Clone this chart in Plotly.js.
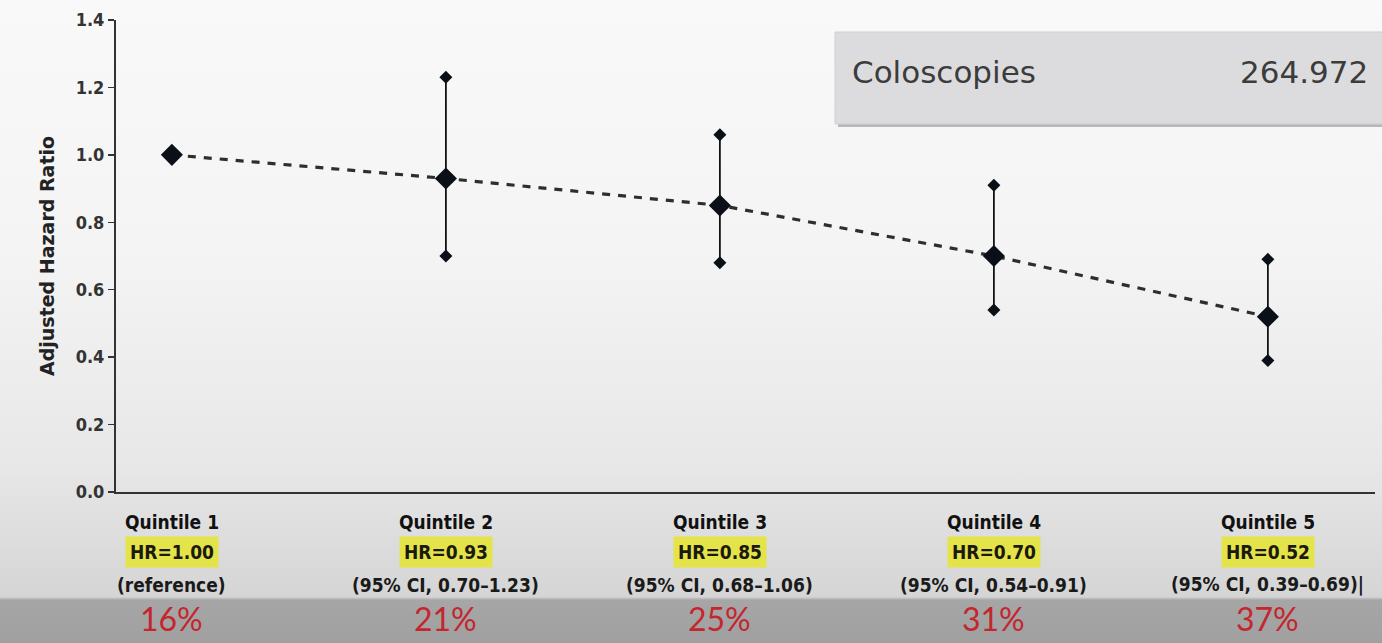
<!DOCTYPE html>
<html>
<head>
<meta charset="utf-8">
<script src="https://cdn.plot.ly/plotly-3.0.1.min.js"></script>
<style>
html,body{margin:0;padding:0;}
body{width:1382px;height:643px;overflow:hidden;
background:linear-gradient(to bottom,#f9f9f9 0px,#f4f4f4 250px,#e8e8e8 460px,#d5d5d5 597px,#a6a6a6 600px,#a0a0a0 643px);}
#chart{width:1382px;height:643px;}
</style>
</head>
<body>
<div id="chart"></div>
<script>
const categories = ["Quintile 1","Quintile 2","Quintile 3","Quintile 4","Quintile 5"];
const hrValues = [1.00, 0.93, 0.85, 0.70, 0.52];
const ciLow = [null, 0.70, 0.68, 0.54, 0.39];
const ciHigh = [null, 1.23, 1.06, 0.91, 0.69];
const hrLabels = ["HR=1.00","HR=0.93","HR=0.85","HR=0.70","HR=0.52"];
const ciLabels = ["(reference)","(95% CI, 0.70–1.23)","(95% CI, 0.68–1.06)","(95% CI, 0.54–0.91)","(95% CI, 0.39–0.69)|"];
const pctLabels = ["16%","21%","25%","31%","37%"];
const boxLabel = "Coloscopies";
const boxValue = "264.972";
const yTicks = [0,0.2,0.4,0.6,0.8,1.0,1.2,1.4];

const xIdx = categories.map((c,i)=>i);
const condensed = '"DejaVu Sans Condensed","Liberation Sans Narrow","Arial Narrow",sans-serif';
const wide = '"DejaVu Sans",Verdana,sans-serif';

const errPlus = hrValues.map((v,i)=> ciHigh[i]==null?0:ciHigh[i]-v);
const errMinus = hrValues.map((v,i)=> ciLow[i]==null?0:v-ciLow[i]);

const capX=[], capY=[];
xIdx.forEach(i=>{ if(ciLow[i]!=null){capX.push(i,i);capY.push(ciLow[i],ciHigh[i]);} });

const traces = [
 {x:xIdx, y:hrValues, type:'scatter', mode:'lines',
  line:{color:'#2e2e2e', width:3.2, dash:'8px,8px'}, hoverinfo:'skip', showlegend:false},
 {x:xIdx, y:hrValues, type:'scatter', mode:'markers',
  error_y:{type:'data', symmetric:false, array:errPlus, arrayminus:errMinus, color:'#111', thickness:1.8, width:0},
  marker:{symbol:'diamond', size:17, color:'#0b0f18'}, showlegend:false},
 {x:capX, y:capY, type:'scatter', mode:'markers',
  marker:{symbol:'diamond', size:10, color:'#0b0f18'}, showlegend:false}
];

const annotations = [];
xIdx.forEach(i=>{
 annotations.push({x:i, y:-0.064, xref:'x', yref:'paper', text:'<b>'+categories[i]+'</b>', showarrow:false,
   font:{family:condensed, size:19, color:'#111'}, yanchor:'middle'});
 annotations.push({x:i, y:-0.128, xref:'x', yref:'paper', text:'<b>'+hrLabels[i]+'</b>', showarrow:false,
   font:{family:condensed, size:19, color:'#1a1a10'}, bgcolor:'#e4e34a', borderpad:4, yanchor:'middle'});
 annotations.push({x:i, y:-0.196, xref:'x', yref:'paper', text:'<b>'+ciLabels[i]+'</b>', showarrow:false,
   font:{family:condensed, size:19, color:'#1a1a1a'}, yanchor:'middle'});
 annotations.push({x:i, y:-0.269, xref:'x', yref:'paper', text:pctLabels[i], showarrow:false,
   font:{family:'"Lato","Open Sans",sans-serif', size:32, color:'#c4262e'}, yanchor:'middle'});
});
// box text
annotations.push({x:(850-116)/1259, y:(492-72)/472, xref:'paper', yref:'paper', text:boxLabel, showarrow:false,
  xanchor:'left', yanchor:'middle', font:{family:wide, size:31, color:'#3c3c3c'}});
annotations.push({x:(1370-116)/1259, y:(492-72)/472, xref:'paper', yref:'paper', text:boxValue, showarrow:false,
  xanchor:'right', yanchor:'middle', font:{family:wide, size:31, color:'#3c3c3c'}});

const px = v=>(v-116)/1259, py = v=>(492-v)/472;
const shapes = [
 {type:'rect', xref:'paper', yref:'paper', x0:px(838), x1:px(1390), y0:py(127), y1:py(34), fillcolor:'#b8b8b8', line:{width:0}, layer:'below'},
 {type:'rect', xref:'paper', yref:'paper', x0:px(835), x1:px(1390), y0:py(124), y1:py(32), fillcolor:'#dcdcdf', line:{color:'#cfcfd2', width:1}, layer:'below'}
];

const layout = {
 width:1382, height:643,
 margin:{l:116, r:7, t:20, b:151},
 paper_bgcolor:'rgba(0,0,0,0)', plot_bgcolor:'rgba(0,0,0,0)',
 showlegend:false,
 xaxis:{range:[-0.204, 4.391], showgrid:false, zeroline:false, showticklabels:false, ticks:'',
   showline:true, linecolor:'#333', linewidth:2},
 yaxis:{range:[0,1.4], tickvals:yTicks, ticktext:yTicks.map(v=>v.toFixed(1)), showgrid:false, zeroline:false,
   showline:true, linecolor:'#333', linewidth:2, ticks:'outside', ticklen:6, tickwidth:1.5, tickcolor:'#333',
   tickfont:{family:condensed, size:18, color:'#333', weight:'bold'},
   title:{text:'<b>Adjusted Hazard Ratio</b>', font:{family:wide, size:19, color:'#222'}, standoff:16}},
 annotations:annotations, shapes:shapes
};

Plotly.newPlot('chart', traces, layout, {displayModeBar:false, staticPlot:true});
</script>
</body>
</html>
